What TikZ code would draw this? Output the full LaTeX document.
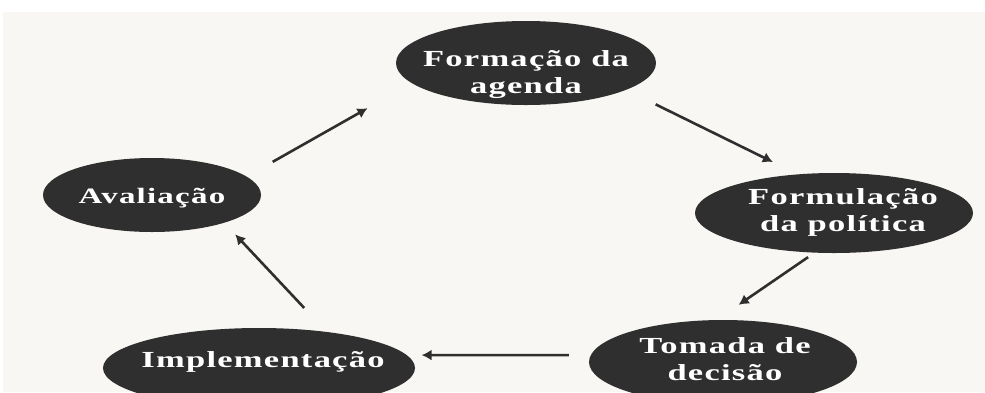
\documentclass[tikz,border=0pt]{standalone}
\usepackage{fontspec}
\newfontfamily\stagefont[FakeStretch=1.5,LetterSpace=5.5]{Liberation Serif}
\usetikzlibrary{shapes.geometric,arrows.meta}
\definecolor{paper}{HTML}{F8F7F3}
\definecolor{ink}{HTML}{2F2F2F}
\tikzset{
  stage/.style={ellipse,fill=ink,draw=none,inner sep=0pt,outer sep=0pt},
  stagetext/.style={text=white,font=\stagefont\bfseries\fontsize{23}{27}\selectfont,align=center,inner sep=0pt},
  flow/.style={draw=ink,line width=2.6pt,-{Latex[length=10pt,width=11pt]}}
}

\begin{document}
\begin{tikzpicture}[x=1pt,y=-1pt]
  % Page
  \useasboundingbox (0,0) rectangle (985,392);
  \clip (0,0) rectangle (985,392);
  \fill[white] (0,0) rectangle (985,392);
  \fill[paper] (3,12) rectangle (985,392);

  % Stages of the cycle
  \node[stage,minimum width=260pt,minimum height=84pt] (agenda) at (526,63) {};
  \node[stage,minimum width=278pt,minimum height=80pt] (policy) at (834,213) {};
  \node[stage,minimum width=268pt,minimum height=84pt] (decision) at (723,362) {};
  \node[stage,minimum width=312pt,minimum height=80pt] (impl) at (259,368) {};
  \node[stage,minimum width=218pt,minimum height=74pt] (review) at (152,195) {};

  % Labels
  \node[stagetext] (agenda-t) at (526,75) {Formação da\\agenda};
  \node[stagetext] (policy-t) at (843,212) {Formulação\\da política};
  \node[stagetext] (decision-t) at (725,359) {Tomada de\\decisão};
  \node[stagetext] (impl-t) at (263,362) {Implementação};
  \node[stagetext,font=\stagefont\bfseries\fontsize{22}{27}\selectfont] (review-t) at (152,198) {Avaliação};

  % Arrows
  \draw[flow,shorten <=30pt,shorten >=51pt] (review.11) -- (agenda.190);
  \draw[flow,shorten <=33pt,shorten >=28pt] (agenda.345) -- (policy.133);
  \draw[flow,shorten <=8pt,shorten >=27pt] (policy.244) -- (decision.99);
  \draw[flow,shorten <=22pt,shorten >=15pt] (decision.177) -- (impl.5);
  \draw[flow,shorten <=33pt,shorten >=16pt] (impl.28) -- (review.339);
\end{tikzpicture}
\end{document}
